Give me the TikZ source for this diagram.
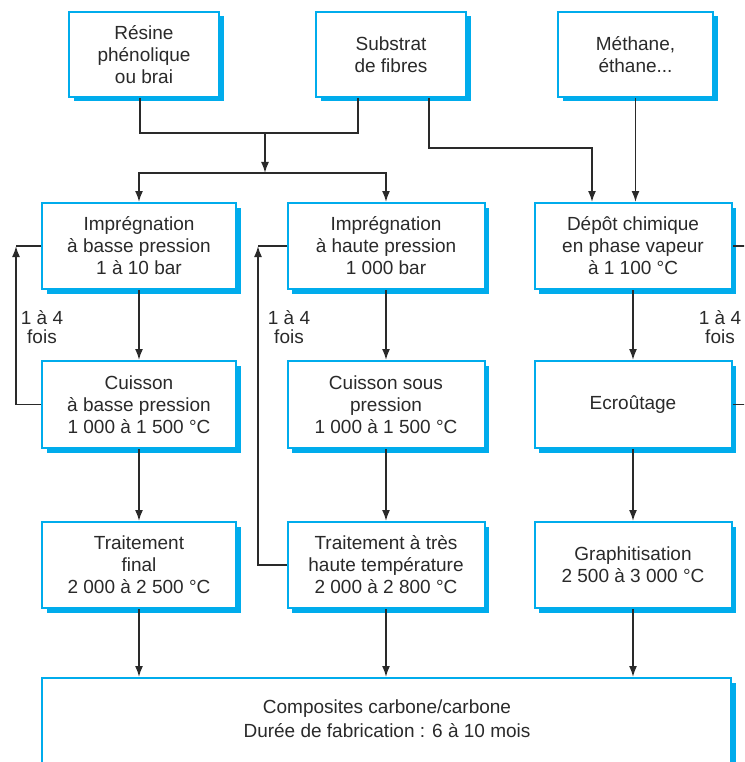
\documentclass[tikz,border=0pt]{standalone}
\usepackage{fontspec}
\setmainfont{Liberation Sans}
\usetikzlibrary{arrows.meta,shadows}
\definecolor{boxcyan}{RGB}{0,172,236}
\definecolor{ink}{RGB}{42,42,42}

\begin{document}
\begin{tikzpicture}[x=1pt,y=-1pt,
  stage/.style={draw=boxcyan, line width=2pt, fill=white, align=center,
    text=ink, font=\fontsize{19}{22}\selectfont, inner sep=0pt,
    drop shadow={shadow xshift=4.5pt, shadow yshift=-4.5pt, fill=boxcyan, opacity=1}},
  note/.style={align=center, text=ink, font=\fontsize{19}{19.5}\selectfont, inner sep=0pt},
  link/.style={draw=ink, line width=1.7pt},
  flow/.style={link, -{Latex[length=11pt,width=8pt]}}]

\useasboundingbox (0,0) rectangle (744,762);
\clip (0,0) rectangle (744,762);

% raw materials
\node[stage, minimum width=150pt, minimum height=85pt] (res) at (144,54.5) {Résine\\phénolique\\ou brai};
\node[stage, minimum width=150pt, minimum height=85pt] (sub) at (391,54.5) {Substrat\\de fibres};
\node[stage, minimum width=155pt, minimum height=85pt] (met) at (635.5,54.5) {Méthane,\\éthane...};

% low-pressure route
\node[stage, minimum width=194pt, minimum height=86pt] (impL) at (139,246) {Imprégnation\\à basse pression\\1 à 10 bar};
\node[stage, minimum width=194pt, minimum height=87pt] (cuiL) at (139,404.5) {Cuisson\\à basse pression\\1 000 à 1 500 °C};
\node[stage, minimum width=194pt, minimum height=86pt] (trL) at (139,565) {Traitement\\final\\2 000 à 2 500 °C};

% high-pressure route
\node[stage, minimum width=197pt, minimum height=86pt] (impM) at (386,246) {Imprégnation\\à haute pression\\1 000 bar};
\node[stage, minimum width=197pt, minimum height=87pt] (cuiM) at (386,404.5) {Cuisson sous\\pression\\1 000 à 1 500 °C};
\node[stage, minimum width=197pt, minimum height=86pt] (trM) at (386,565) {Traitement à très\\haute température\\2 000 à 2 800 °C};

% vapour-phase route
\node[stage, minimum width=197pt, minimum height=86pt] (dcv) at (633,246) {Dépôt chimique\\en phase vapeur\\à 1 100 °C};
\node[stage, minimum width=197pt, minimum height=87pt] (ecr) at (633,404.5) {Ecroûtage};
\node[stage, minimum width=197pt, minimum height=86pt] (gra) at (633,565) {Graphitisation\\2 500 à 3 000 °C};

% final product
\node[stage, minimum width=689pt, minimum height=123pt, anchor=north] (comp) at (386.5,677) {};
\node[note, font=\fontsize{19}{24}\selectfont] (compt) at (387,719) {Composites carbone/carbone\\Durée de fabrication : 6 à 10 mois};

% repetition counts
\node[note] (nL) at (42,327) {1 à 4\\fois};
\node[note] (nM) at (289,327) {1 à 4\\fois};
\node[note] (nR) at (720,327) {1 à 4\\fois};

% feeding the impregnations
\coordinate (j1) at (265,133);
\coordinate (j2) at (265,173);
\draw[link] ([xshift=-4pt]res.south) |- (j1);
\draw[link] ([xshift=-33pt]sub.south) |- (j1);
\draw[flow] (j1) -- (j2);
\draw[flow] (j2) -| (impL.north);
\draw[flow] (j2) -| (impM.north);

% feeding the deposition
\coordinate (turn) at (592,148);
\draw[flow] ([xshift=38pt]sub.south) |- (turn) -- (turn |- dcv.north);
\draw[flow] (met.south) -- (met.south |- dcv.north);

% column flows
\draw[flow] (impL.south) -- (cuiL.north);
\draw[flow] (cuiL.south) -- (trL.north);
\draw[flow] (impM.south) -- (cuiM.north);
\draw[flow] (cuiM.south) -- (trM.north);
\draw[flow] (dcv.south) -- (ecr.north);
\draw[flow] (ecr.south) -- (gra.north);
\draw[flow] (trL.south) -- (trL.south |- comp.north);
\draw[flow] (trM.south) -- (trM.south |- comp.north);
\draw[flow] (gra.south) -- (gra.south |- comp.north);

% repetition loops
\coordinate (lp) at (16,246);
\draw[flow] (cuiL.west) -| (lp);
\draw[link] (lp) -- (impL.west);
\coordinate (mp) at (258,246);
\draw[flow] (trM.west) -| (mp);
\draw[link] (mp) -- (impM.west);
\coordinate (rp) at (760,246);
\draw[flow] (ecr.east) -| (rp);
\draw[link] (rp) -- (dcv.east);
\end{tikzpicture}
\end{document}
